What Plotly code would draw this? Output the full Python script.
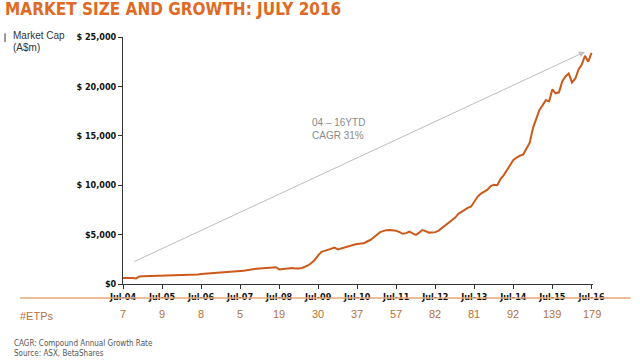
import pandas as pd
import plotly.graph_objects as go

# ---- data ----
market_cap_2004 = [600, 620, 640, 610, 560, 760]  # Jul-Dec
market_cap_2005 = [780, 790, 790, 800, 800, 810, 800, 810, 820, 830, 840, 850]
market_cap_2006 = [880, 900, 930, 940, 930, 960, 1000, 1020, 1050, 1080, 1100, 1140]
market_cap_2007 = [1160, 1180, 1200, 1220, 1250, 1260, 1280, 1330, 1400, 1470, 1500, 1550]
market_cap_2008 = [1580, 1600, 1620, 1650, 1680, 1700, 1480, 1520, 1560, 1600, 1620, 1580]
market_cap_2009 = [1560, 1620, 1750, 1900, 2150, 2450, 2900, 3250, 3350, 3450, 3550, 3680]
market_cap_2010 = [3500, 3600, 3750, 3850, 3950, 3980, 4050, 4080, 4120, 4300, 4450, 4700]
market_cap_2011 = [4950, 5250, 5350, 5450, 5460, 5420, 5380, 5250, 5080, 5150, 5300, 5120]
market_cap_2012 = [4980, 5200, 5460, 5350, 5200, 5220, 5250, 5400, 5650, 5900, 6200, 6400]
market_cap_2013 = [6700, 7100, 7300, 7550, 7700, 7850, 8300, 8850, 9150, 9350, 9550, 9900]
market_cap_2014 = [10050, 10000, 10600, 11000, 11500, 12100, 12550, 12800, 13000, 13100, 13700, 14300]
market_cap_2015 = [15800, 16800, 17600, 18100, 18600, 18500, 19700, 19300, 19400, 20500, 21000, 21300]
market_cap_2016 = [20400, 20800, 21700, 22200, 23100, 22500, 23400]  # Jan-Jul

market_cap = (market_cap_2004 + market_cap_2005 + market_cap_2006 + market_cap_2007
              + market_cap_2008 + market_cap_2009 + market_cap_2010 + market_cap_2011
              + market_cap_2012 + market_cap_2013 + market_cap_2014 + market_cap_2015
              + market_cap_2016)
months = pd.date_range("2004-07-01", periods=len(market_cap), freq="MS")

tick_dates = [f"{y}-07-01" for y in range(2004, 2017)]
tick_labels = ["Jul-04", "Jul-05", "Jul-06", "Jul-07", "Jul-08", "Jul-09", "Jul-10",
               "Jul-11", "Jul-12", "Jul-13", "Jul-14", "Jul-15", "Jul-16"]
etp_counts = [7, 9, 8, 5, 19, 30, 37, 57, 82, 81, 92, 139, 179]

y_tick_vals = [0, 5000, 10000, 15000, 20000, 25000]
y_tick_text = ["$0", "$5,000", "$ 10,000", "$ 15,000", "$ 20,000", "$ 25,000"]

cagr_start = ("2004-10-01", 2200)
cagr_end = ("2016-05-01", 23500)

ORANGE = "#cc5a1a"
TITLE_ORANGE = "#e06a24"
ETP_COLOR = "#b8703a"
NARROW = "Liberation Sans Narrow, DejaVu Sans Condensed, Arial Narrow, sans-serif"
REG = "Liberation Sans, Arial, sans-serif"

fig = go.Figure()
fig.add_trace(go.Scatter(x=months, y=market_cap, mode="lines",
                         line=dict(color=ORANGE, width=2), hoverinfo="skip",
                         showlegend=False))

# CAGR arrow
fig.add_annotation(x=cagr_end[0], y=cagr_end[1], ax=cagr_start[0], ay=cagr_start[1],
                   xref="x", yref="y", axref="x", ayref="y", text="",
                   showarrow=True, arrowhead=2, arrowsize=1.2, arrowwidth=1,
                   arrowcolor="#bdbdbd")
fig.add_annotation(x="2009-04-15", y=15700, xref="x", yref="y",
                   text="04 – 16YTD<br>CAGR 31%", showarrow=False, align="left",
                   xanchor="left", yanchor="middle",
                   font=dict(family=REG, size=10, color="#8a8a8a"))

# ETP counts row
for d, n in zip(tick_dates, etp_counts):
    fig.add_annotation(x=d, y=-0.12, xref="x", yref="paper", text=str(n),
                       showarrow=False, xanchor="center", yanchor="middle",
                       font=dict(family=REG, size=11, color=ETP_COLOR))
fig.add_annotation(x=-0.224, y=-0.13, xref="paper", yref="paper", text="#ETPs",
                   showarrow=False, xanchor="left", yanchor="middle",
                   font=dict(family=REG, size=11, color=ETP_COLOR))
fig.add_shape(type="line", xref="paper", yref="paper", x0=-0.219, x1=1.08,
              y0=-0.057, y1=-0.057, line=dict(color="#e6a77a", width=1.5))

# Axis title block
fig.add_shape(type="line", xref="paper", yref="paper", x0=-0.251, x1=-0.251,
              y0=1.015, y1=0.98, line=dict(color="#333333", width=1))
for txt, yy in [("Market Cap", 1.005), ("(A$m)", 0.957)]:
    fig.add_annotation(x=-0.239, y=yy, xref="paper", yref="paper",
                       text=txt, showarrow=False, align="left",
                       xanchor="left", yanchor="middle",
                       font=dict(family=REG, size=10, color="#333333"))

# Footnotes
fig.add_annotation(x=-0.236, y=-0.26, xref="paper", yref="paper",
                   text="CAGR: Compound Annual Growth Rate<br>Source: ASX, BetaShares",
                   showarrow=False, align="left", xanchor="left", yanchor="middle",
                   font=dict(family=NARROW, size=8, color="#555555"))

fig.update_layout(
    width=640, height=360,
    margin=dict(l=123, r=47, t=37, b=76),
    paper_bgcolor="white", plot_bgcolor="white",
    title=dict(text="<b>MARKET SIZE AND GROWTH: JULY 2016</b>", x=0.008, xanchor="left",
               y=0.975, yanchor="middle", pad=dict(l=0, r=0, t=0, b=0),
               font=dict(family=NARROW, size=17, color=TITLE_ORANGE)),
    xaxis=dict(range=["2004-07-01", "2016-07-15"], tickvals=tick_dates, ticktext=tick_labels,
               showgrid=False, zeroline=False, showline=True, linecolor="#333333",
               linewidth=1, ticks="outside", ticklen=4, tickcolor="#333333",
               tickfont=dict(family=NARROW, size=9, color="#111111", weight="bold")),
    yaxis=dict(range=[0, 25000], tickvals=y_tick_vals, ticktext=y_tick_text,
               showgrid=False, zeroline=False, showline=True, linecolor="#333333",
               linewidth=1, ticks="outside", ticklen=4, tickcolor="#333333",
               tickfont=dict(family=NARROW, size=9, color="#111111", weight="bold")),
)

fig.write_html("out.html", config={"displayModeBar": False},
               post_script="document.body.style.margin='0px';")
